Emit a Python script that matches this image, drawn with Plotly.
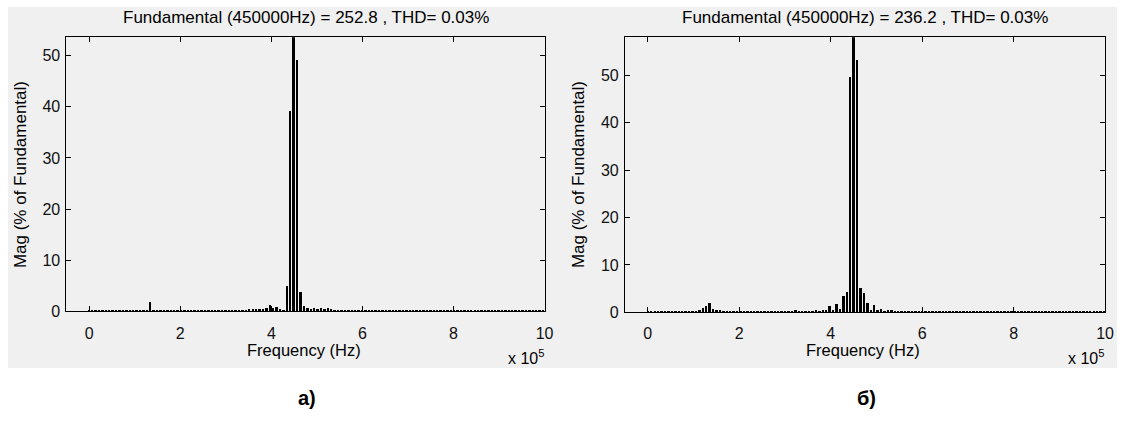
import plotly.graph_objects as go

# ---------------- data ----------------
BIN_HZ = 7500  # spectral resolution (Hz)
n_bins = 134
freqs_hz = [k * BIN_HZ for k in range(n_bins)]

# panel a) magnitudes, % of fundamental, bins 0..133
mag_a = [
    0.1, 0.2, 0.3, 0.2, 0.25, 0.3, 0.2, 0.2, 0.3, 0.25,   # 0-9
    0.2, 0.3, 0.2, 0.25, 0.2, 0.3, 0.25, 0.3, 1.8, 0.3,   # 10-19
    0.25, 0.2, 0.3, 0.25, 0.2, 0.3, 0.25, 0.2, 0.3, 0.2,  # 20-29
    0.25, 0.3, 0.2, 0.25, 0.2, 0.3, 0.2, 0.25, 0.3, 0.2,  # 30-39
    0.25, 0.2, 0.3, 0.25, 0.2, 0.3, 0.3, 0.35, 0.5, 0.5,  # 40-49
    0.5, 0.4, 0.6, 1.1, 0.6, 0.8, 0.5, 0.3, 5.0, 39.2,    # 50-59
    100.0, 49.1, 3.7, 1.0, 0.6, 0.5, 0.6, 0.5, 0.6, 0.5,  # 60-69
    0.6, 0.4, 0.3, 0.3, 0.25, 0.3, 0.2, 0.25, 0.3, 0.2,   # 70-79
    0.25, 0.3, 0.2, 0.25, 0.3, 0.2, 0.25, 0.2, 0.3, 0.25, # 80-89
    0.2, 0.3, 0.25, 0.2, 0.3, 0.2, 0.25, 0.3, 0.2, 0.25,  # 90-99
    0.3, 0.2, 0.25, 0.3, 0.2, 0.25, 0.2, 0.3, 0.25, 0.2,  # 100-109
    0.3, 0.2, 0.25, 0.3, 0.2, 0.25, 0.3, 0.2, 0.25, 0.2,  # 110-119
    0.3, 0.25, 0.2, 0.3, 0.2, 0.25, 0.3, 0.2, 0.25, 0.3,  # 120-129
    0.2, 0.25, 0.3, 0.2,                                  # 130-133
]

# panel б) magnitudes, % of fundamental, bins 0..133
mag_b = [
    0.1, 0.2, 0.25, 0.2, 0.3, 0.25, 0.2, 0.3, 0.2, 0.25,  # 0-9
    0.3, 0.2, 0.25, 0.3, 0.3, 0.5, 0.8, 1.2, 2.0, 0.6,    # 10-19
    0.5, 0.5, 0.3, 0.25, 0.2, 0.3, 0.25, 0.2, 0.3, 0.25,  # 20-29
    0.2, 0.3, 0.25, 0.2, 0.3, 0.2, 0.25, 0.3, 0.2, 0.25,  # 30-39
    0.3, 0.2, 0.3, 0.5, 0.3, 0.25, 0.3, 0.3, 0.3, 0.5,    # 40-49
    0.3, 0.4, 0.4, 1.2, 0.5, 1.7, 0.7, 3.4, 4.3, 49.6,    # 50-59
    100.0, 53.2, 5.1, 4.0, 2.0, 0.4, 1.4, 0.4, 0.6, 0.3,  # 60-69
    0.5, 0.5, 0.3, 0.25, 0.3, 0.2, 0.25, 0.3, 0.2, 0.25,  # 70-79
    0.3, 0.2, 0.25, 0.3, 0.2, 0.25, 0.2, 0.3, 0.25, 0.2,  # 80-89
    0.3, 0.25, 0.2, 0.3, 0.2, 0.25, 0.3, 0.2, 0.25, 0.3,  # 90-99
    0.2, 0.25, 0.3, 0.2, 0.25, 0.2, 0.3, 0.25, 0.2, 0.3,  # 100-109
    0.25, 0.2, 0.3, 0.2, 0.25, 0.3, 0.2, 0.25, 0.3, 0.2,  # 110-119
    0.25, 0.3, 0.2, 0.25, 0.3, 0.2, 0.25, 0.2, 0.3, 0.25, # 120-129
    0.2, 0.3, 0.25, 0.2,                                  # 130-133
]

titles = [
    "Fundamental (450000Hz) = 252.8 , THD= 0.03%",
    "Fundamental (450000Hz) = 236.2 , THD= 0.03%",
]
panel_labels = ["а)", "б)"]
x_tickvals = [0, 200000, 400000, 600000, 800000, 1000000]
x_ticktext = ["0", "2", "4", "6", "8", "10"]
y_tickvals = [0, 10, 20, 30, 40, 50]
y_max = [53.6, 58.05]

# ---------------- layout helpers ----------------
W, H = 1126, 428
def px_x(p):
    return p / W
def px_y(p):
    return 1 - p / H

FONT = "Liberation Sans, Arial, Helvetica, sans-serif"
TXT = 17
TICK = 16

fig = go.Figure()

fig.add_trace(go.Bar(x=freqs_hz, y=mag_a, width=BIN_HZ * 0.7,
                     marker=dict(color="black", line=dict(width=0)),
                     xaxis="x", yaxis="y", showlegend=False))
fig.add_trace(go.Bar(x=freqs_hz, y=mag_b, width=BIN_HZ * 0.7,
                     marker=dict(color="black", line=dict(width=0)),
                     xaxis="x2", yaxis="y2", showlegend=False))

axis_common = dict(showline=True, linecolor="black", linewidth=1, mirror="ticks",
                   ticks="inside", ticklen=5, tickwidth=1, tickcolor="black",
                   showgrid=False, zeroline=False,
                   tickfont=dict(family=FONT, size=TICK, color="#111111"))

panels = [
    dict(xl=67, xr=549, yt=38, yb=318),
    dict(xl=630, xr=1114, yt=38, yb=319),
]

layout = dict(
    width=W, height=H, autosize=False,
    margin=dict(l=0, r=0, t=0, b=0, pad=0),
    paper_bgcolor="white", plot_bgcolor="white",
    font=dict(family=FONT, size=TXT, color="black"),
    bargap=0,
)
for i, p in enumerate(panels):
    sx = "" if i == 0 else str(i + 1)
    layout["xaxis" + sx] = dict(axis_common,
                                domain=[px_x(p["xl"]), px_x(p["xr"])],
                                range=[-50000, 1000000],
                                tickvals=x_tickvals, ticktext=x_ticktext,
                                ticklabelstandoff=7,
                                anchor="y" + sx)
    layout["yaxis" + sx] = dict(axis_common,
                                domain=[px_y(p["yb"]), px_y(p["yt"])],
                                range=[0, y_max[i]],
                                tickvals=y_tickvals,
                                ticklabelstandoff=2,
                                anchor="x" + sx)
fig.update_layout(**layout)

# gray figure background (MATLAB window)
fig.add_shape(type="rect", xref="paper", yref="paper",
              x0=px_x(8), x1=1.0, y0=px_y(376), y1=px_y(7),
              fillcolor="#f0f0f0", line=dict(width=0), layer="below")

ann = []
for i, p in enumerate(panels):
    cx = (p["xl"] + p["xr"]) / 2
    ann.append(dict(text=titles[i], x=px_x(cx), y=px_y(18), xref="paper", yref="paper",
                    showarrow=False, xanchor="center", yanchor="middle",
                    font=dict(family=FONT, size=TXT, color="black")))
    ann.append(dict(text="Frequency (Hz)", x=px_x(cx - 2), y=px_y(358), xref="paper", yref="paper",
                    showarrow=False, xanchor="center", yanchor="middle",
                    font=dict(family=FONT, size=16.5, color="black")))
    ann.append(dict(text="Mag (% of Fundamental)", x=px_x(p["xl"] - 47), y=px_y((p["yt"] + p["yb"]) / 2),
                    xref="paper", yref="paper", textangle=-90,
                    showarrow=False, xanchor="center", yanchor="middle",
                    font=dict(family=FONT, size=TXT, color="black")))
    ann.append(dict(text="x 10<sup>5</sup>", x=px_x(p["xr"] + 1), y=px_y(365), xref="paper", yref="paper",
                    showarrow=False, xanchor="right", yanchor="middle",
                    font=dict(family=FONT, size=TICK, color="black")))
    ann.append(dict(text="<b>" + panel_labels[i] + "</b>", x=px_x(cx + 1), y=px_y(407),
                    xref="paper", yref="paper",
                    showarrow=False, xanchor="center", yanchor="middle",
                    font=dict(family=FONT, size=20, color="black")))
fig.update_layout(annotations=ann)

fig.write_html("out.html", include_plotlyjs=True,
               config={"displayModeBar": False},
               post_script="document.body.style.margin='0';")
